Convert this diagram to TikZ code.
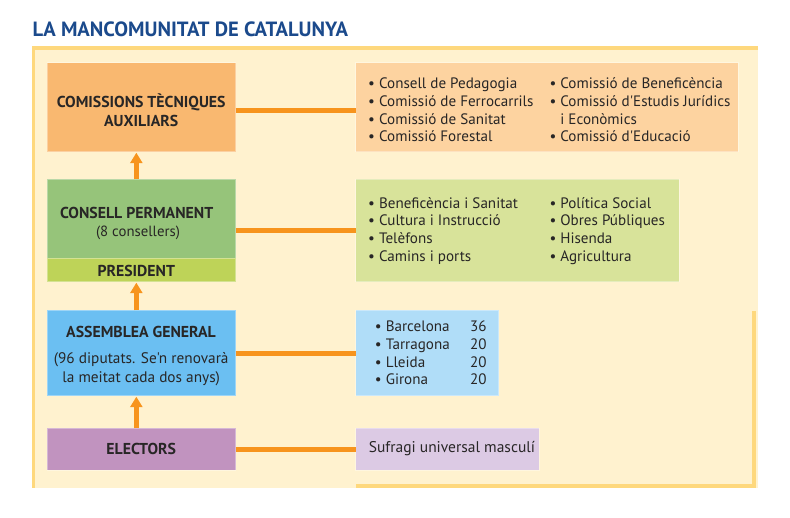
\documentclass[tikz,border=0pt]{standalone}
\usepackage{fontspec}
\setmainfont{PT Sans}[Ligatures=TeXOff]
\usetikzlibrary{arrows.meta}
\definecolor{cream}{RGB}{255,242,207}
\definecolor{yel}{RGB}{254,216,125}
\definecolor{titleblue}{RGB}{27,74,140}
\definecolor{ink}{RGB}{40,38,38}
\definecolor{orangebox}{RGB}{249,184,112}
\definecolor{peach}{RGB}{253,211,160}
\definecolor{greenbox}{RGB}{150,196,122}
\definecolor{presid}{RGB}{190,211,88}
\definecolor{lightgreen}{RGB}{216,227,154}
\definecolor{bluebox}{RGB}{107,191,242}
\definecolor{lightblue}{RGB}{176,221,248}
\definecolor{purplebox}{RGB}{193,147,191}
\definecolor{lilac}{RGB}{220,202,228}
\definecolor{conn}{RGB}{247,148,29}
\tikzset{
  boxnode/.style={anchor=north west, inner sep=0pt, outer sep=0pt, draw=white, draw opacity=0.35, line width=0.6pt},
  lbl/.style={inner sep=0pt, text=ink, font=\fontsize{14.8}{19.5}\selectfont, align=center},
  capslbl/.style={lbl, font=\fontsize{15.8}{19.5}\selectfont\bfseries},
  item/.style={inner sep=0pt, text=ink, font=\fontsize{15.1}{17.7}\selectfont, align=left, anchor=west},
  link/.style={draw=conn, line width=5pt},
  uparrow/.style={draw=conn, line width=5.7pt, -{Triangle[width=12pt,length=10.5pt]}, shorten >=1pt}
}
\begin{document}
\begin{tikzpicture}[x=1pt,y=-1pt]
\useasboundingbox (0,0) rectangle (790,517);
% title
\node[anchor=west, inner sep=0pt, text=titleblue, font=\fontsize{20.6}{22}\selectfont\bfseries] (title) at (32.3,29.3) {LA MANCOMUNITAT DE CATALUNYA};
% panel
\fill[cream] (32,46) rectangle (758,488);
\fill[yel] (32,46) rectangle (758,49.5);
\fill[yel] (32,46) rectangle (35.3,488);
\fill[yel] (751.7,311) rectangle (755.7,488);
\fill[yel] (355.7,483.7) rectangle (755.7,488);
% left boxes
\node[boxnode, fill=orangebox, minimum width=188.7pt, minimum height=89pt] (ct) at (47,62.7) {};
\node[boxnode, fill=greenbox, minimum width=188.7pt, minimum height=79.3pt] (cp) at (47,179) {};
\node[boxnode, fill=presid, minimum width=188.7pt, minimum height=23.4pt] (pr) at (47,258.3) {};
\node[boxnode, fill=bluebox, minimum width=188.7pt, minimum height=85.4pt] (ag) at (47,310.3) {};
\node[boxnode, fill=purplebox, minimum width=188.7pt, minimum height=42pt] (el) at (47,428.3) {};
% right boxes
\node[boxnode, fill=peach, minimum width=382.6pt, minimum height=89pt] (ctl) at (355.7,62.7) {};
\node[boxnode, fill=lightgreen, minimum width=323.3pt, minimum height=102.7pt] (cpl) at (355.7,179) {};
\node[boxnode, fill=lightblue, minimum width=143pt, minimum height=85.4pt] (agl) at (355.7,310.3) {};
\node[boxnode, fill=lilac, minimum width=183.3pt, minimum height=42pt] (ell) at (355.7,428.3) {};
% left labels
\node[capslbl] (ctt) at (141.2,110.3) {COMISSIONS TÈCNIQUES\\AUXILIARS};
\node[capslbl] (cpt) at (136.7,212.7) {CONSELL PERMANENT};
\node[lbl] (cpt2) at (138,233.3) {(8 consellers)};
\node[capslbl] (prt) at (136.3,270.7) {PRESIDENT};
\node[capslbl] (agt) at (141,332.3) {ASSEMBLEA GENERAL};
\node[lbl, font=\fontsize{15.3}{19.7}\selectfont] (agt2) at (141.2,369.2) {(96 diputats. Se'n renovarà\\la meitat cada dos anys)};
\node[capslbl] (elt) at (141.2,449) {ELECTORS};
% right lists
\node[item] (l1a) at (368,110) {• Consell de Pedagogia\\• Comissió de Ferrocarrils\\• Comissió de Sanitat\\• Comissió Forestal};
\node[item] (l1b) at (549.3,110) {• Comissió de Beneficència\\• Comissió d'Estudis Jurídics\\\phantom{• }i Econòmics\\• Comissió d'Educació};
\node[item] (l2a) at (368,230.8) {• Beneficència i Sanitat\\• Cultura i Instrucció\\• Telèfons\\• Camins i ports};
\node[item] (l2b) at (549.3,230.8) {• Política Social\\• Obres Públiques\\• Hisenda\\• Agricultura};
\node[item] (l3a) at (374.7,353) {• Barcelona\\• Tarragona\\• Lleida\\• Girona};
\node[item] (l3b) at (470,353) {36\\20\\20\\20};
\node[item, font=\fontsize{15.5}{17.7}\selectfont] (l4) at (368.6,448.3) {Sufragi universal masculí};
% connectors
\draw[link] ([yshift=-3pt]ct.east) -- ([yshift=-3pt]ctl.west);
\draw[link] (cp.east |- cpl.west) -- (cpl.west);
\draw[link] (ag.east) -- (agl.west);
\draw[link] (el.east) -- (ell.west);
% arrows
\draw[uparrow] ([xshift=-5pt]cp.north) -- ([xshift=-5pt]ct.south);
\draw[uparrow] ([xshift=-5pt]ag.north) -- ([xshift=-5pt]pr.south);
\draw[uparrow] ([xshift=-5pt]el.north) -- ([xshift=-5pt]ag.south);
\end{tikzpicture}
\end{document}
